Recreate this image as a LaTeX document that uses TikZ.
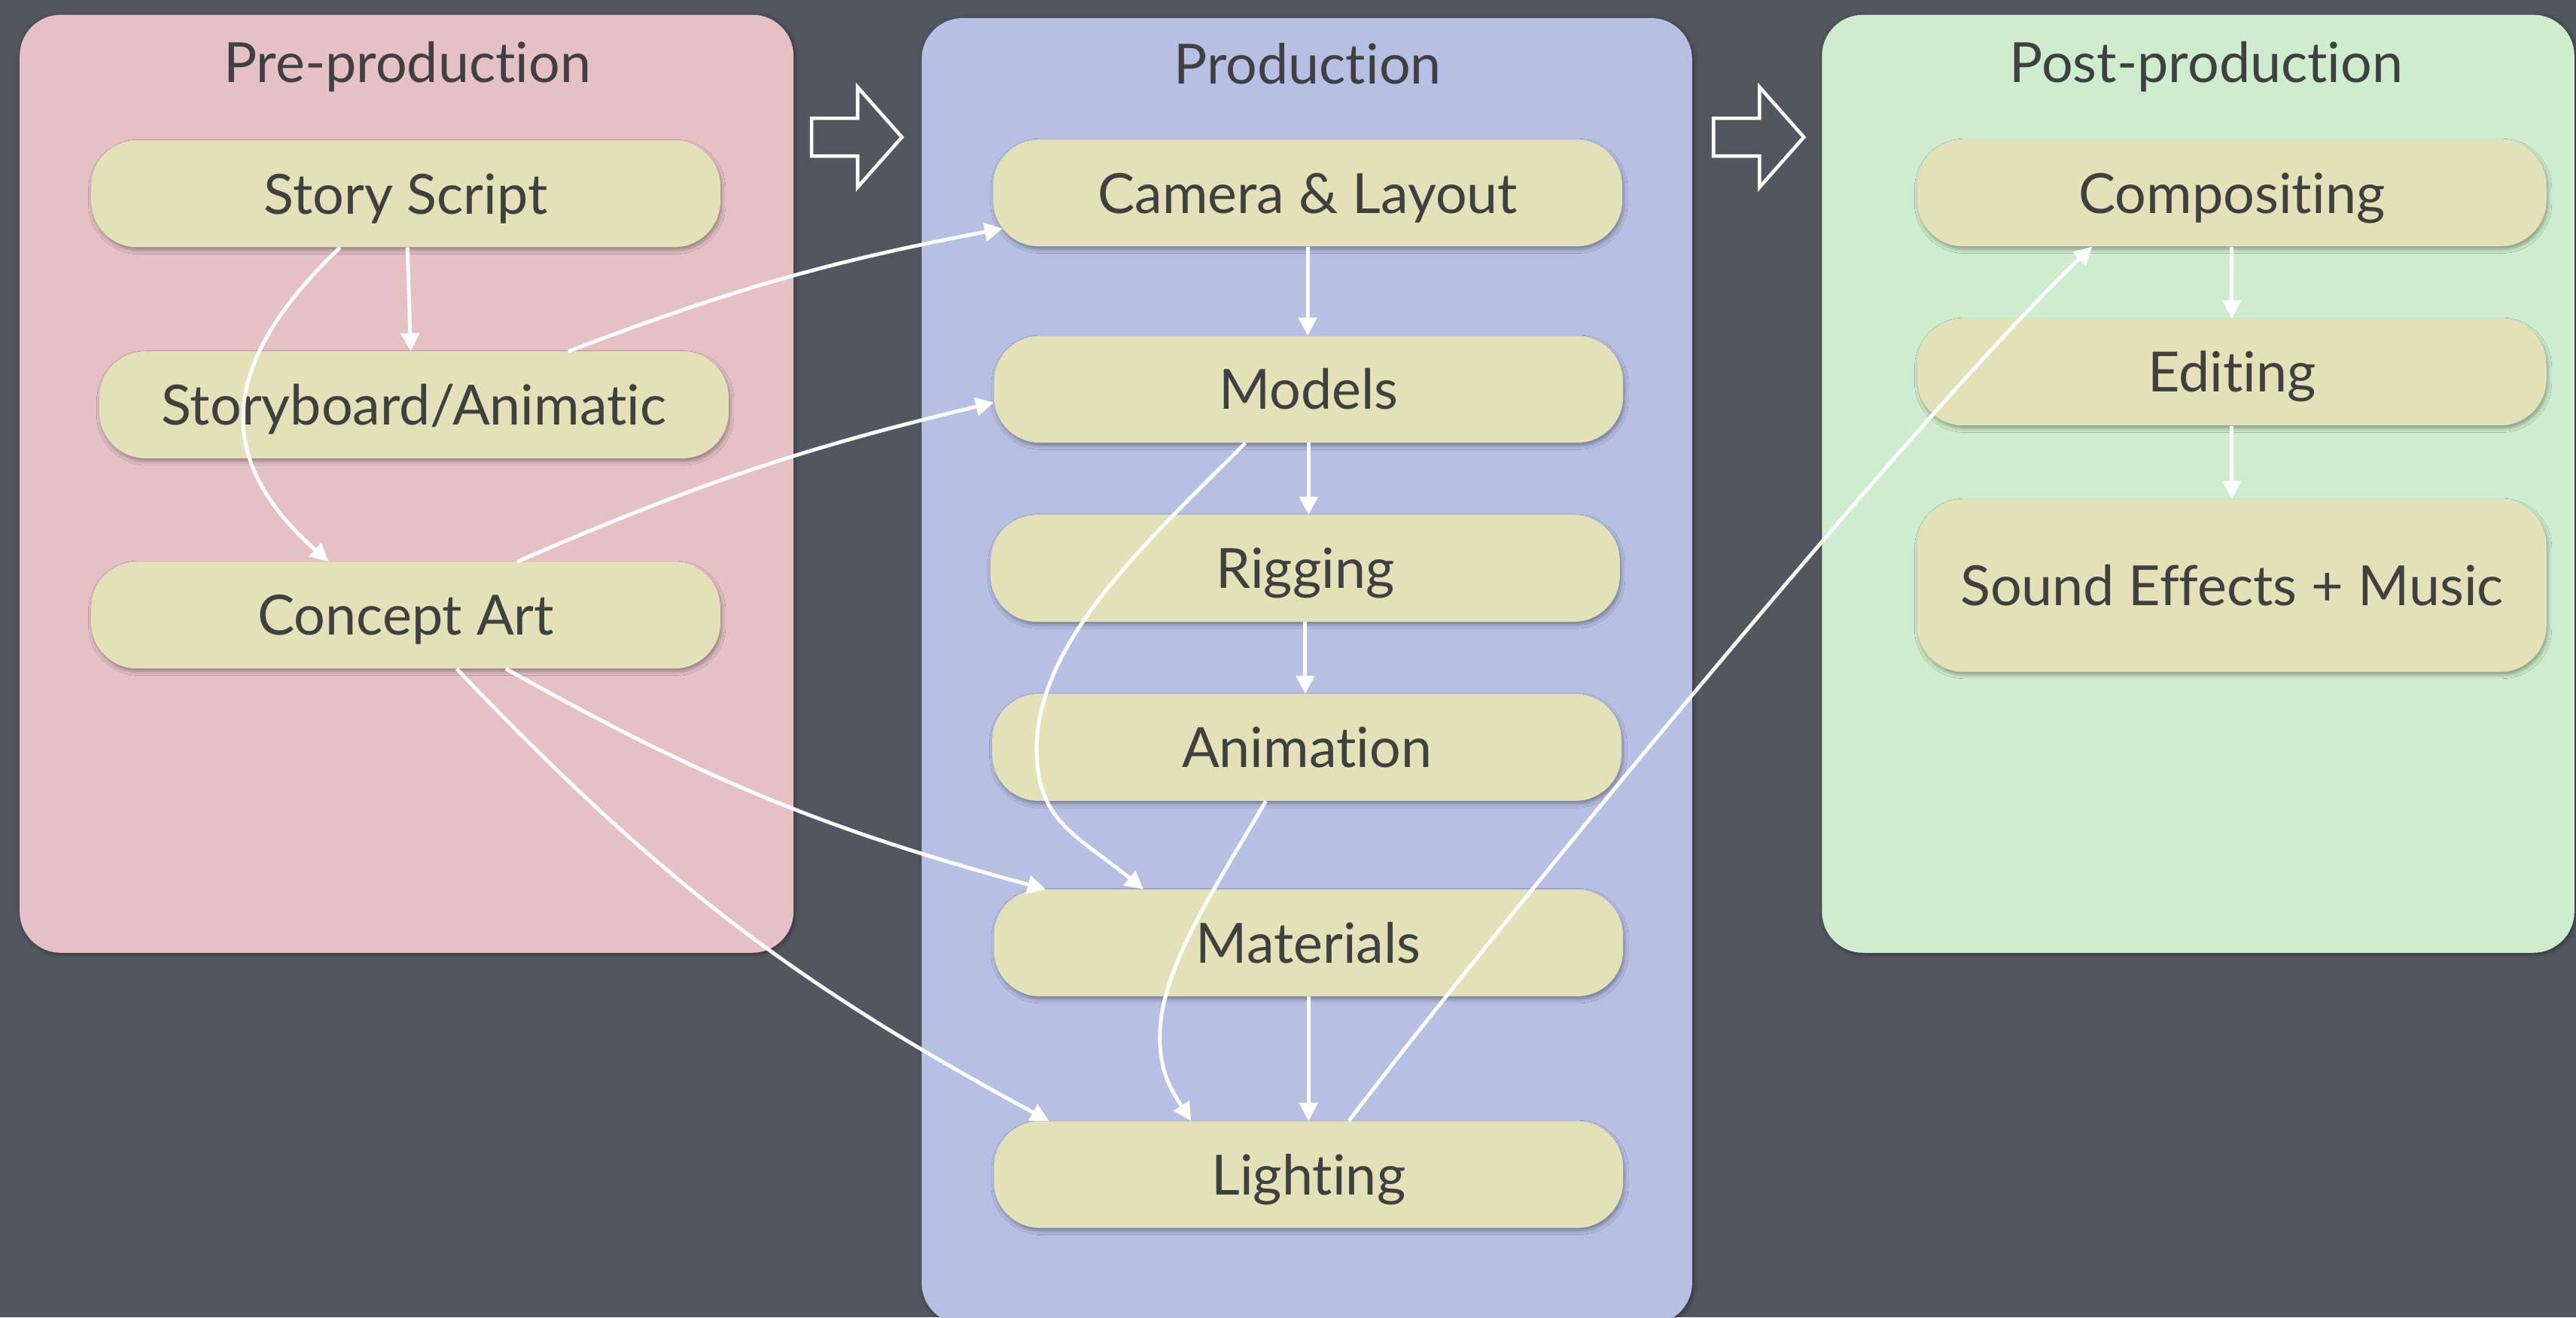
\documentclass[tikz,border=0pt]{standalone}
\usepackage{fontspec}
\setmainfont{Lato}[Ligatures=NoCommon]
\usetikzlibrary{arrows.meta,shadows.blur,calc}

\definecolor{bgdark}{HTML}{52565E}
\definecolor{prefill}{HTML}{E5C1C5}
\definecolor{prodfill}{HTML}{B7BFE4}
\definecolor{postfill}{HTML}{CEEDCE}
\definecolor{taskfill}{HTML}{E3E1B7}
\definecolor{inkgrey}{HTML}{404040}

\tikzset{
  panel/.style={rounded corners=12.5mm,
    blur shadow={shadow xshift=0.4mm, shadow yshift=-0.4mm, shadow blur radius=1.2mm, shadow opacity=40}},
  paneltitle/.style={text=inkgrey, font=\fontsize{48}{56}\selectfont, inner sep=0pt,
    text height=12.2mm, text depth=0pt},
  task/.style={draw=none, fill=taskfill, rounded corners=14mm,
    minimum width=191.5mm, minimum height=32.5mm, inner sep=0pt,
    text height=12.2mm, text depth=0pt,
    text=inkgrey, font=\fontsize{48}{56}\selectfont,
    blur shadow={shadow xshift=0.4mm, shadow yshift=-0.9mm, shadow blur radius=1.2mm, shadow opacity=35}},
  conn/.style={draw=white, line width=3.2pt, line cap=butt,
    -{Triangle[length=5.5mm,width=5.5mm]}},
  stagearrow/.style={draw=white, line width=3pt, line join=miter},
}

\begin{document}
\begin{tikzpicture}[x=0.5mm, y=-0.5mm]
  % canvas
  \useasboundingbox (0,0) rectangle (1568,802);
  \fill[bgdark] (0,0) rectangle (1568,802);

  % stage panels
  \fill[prefill, panel] (12,9) rectangle (483,580);
  \fill[prodfill, panel] (561,11) rectangle (1030,806);
  \fill[postfill, panel] (1109,9) rectangle (1567,580);

  \node[paneltitle] (tpre)  at (248,38) {Pre-production};
  \node[paneltitle] (tprod) at (796,39) {Production};
  \node[paneltitle] (tpost) at (1343,38) {Post-production};

  % hollow arrows between stages
  \draw[stagearrow] (494,72) -- (522,72) -- (522,53) -- (549,83.5) -- (522,114) -- (522,95) -- (494,95) -- cycle;
  \draw[stagearrow] (1043,72) -- (1071,72) -- (1071,53) -- (1098,83.5) -- (1071,114) -- (1071,95) -- (1043,95) -- cycle;

  % pre-production tasks
  \node[task] (ss) at (247,118)   {Story Script};
  \node[task] (sb) at (252,246.5) {Storyboard/Animatic};
  \node[task] (ca) at (247,374.5) {Concept Art};

  % production tasks
  \node[task] (cl) at (796,117.5) {Camera \& Layout};
  \node[task] (mo) at (796.5,237) {Models};
  \node[task] (ri) at (794.5,346) {Rigging};
  \node[task] (an) at (795.5,455) {Animation};
  \node[task] (ma) at (796.5,574) {Materials};
  \node[task] (li) at (796.5,715) {Lighting};

  % post-production tasks
  \node[task] (co)  at (1358.5,117.5) {Compositing};
  \node[task] (ed)  at (1358.5,226.5) {Editing};
  \node[task, minimum height=52.5mm] (sfx) at (1358.5,356.5) {Sound Effects + Music};

  % dependencies
  \draw[conn] ($(ss.south)+(1,0)$) -- ($(sb.north)+(-2,0)$);
  \draw[conn] ($(ss.south)+(-40,0)$) .. controls (132,222) and (130,280) .. ($(ca.north)+(-47,0)$);
  \draw[conn] ($(sb.north)+(94,0)$) to[bend left=5] ($(cl.south west)+(6,-11)$);
  \draw[conn] ($(ca.north)+(68,0)$) to[bend left=5] ($(mo.west)+(0,8)$);
  \draw[conn] ($(ca.south)+(61,0)$) to[bend right=7] ($(ma.north)+(-160,0)$);
  \draw[conn] ($(ca.south)+(31,0)$) to[bend right=9] ($(li.north)+(-158,0)$);

  \draw[conn] (cl.south) -- (cl.south |- mo.north);
  \draw[conn] (mo.south) -- (mo.south |- ri.north);
  \draw[conn] (ri.south) -- (ri.south |- an.north);
  \draw[conn] ($(mo.south)+(-38.5,0)$) .. controls (700,328) and (631,390) .. (631,456)
              .. controls (631,500) and (655,508) .. ($(ma.north)+(-100.5,0)$);
  \draw[conn] ($(an.south)+(-25,0)$) .. controls (740,540) and (706,590) .. (706,631)
              .. controls (706,652) and (712,662) .. ($(li.north)+(-71.5,0)$);
  \draw[conn] (ma.south) -- (ma.south |- li.north);
  \draw[conn] ($(li.north)+(24.5,0)$) .. controls (914.5,559.5) and (1173,245.5) .. ($(co.south)+(-85,0)$);

  \draw[conn] (co.south) -- (co.south |- ed.north);
  \draw[conn] (ed.south) -- (ed.south |- sfx.north);
\end{tikzpicture}
\end{document}
